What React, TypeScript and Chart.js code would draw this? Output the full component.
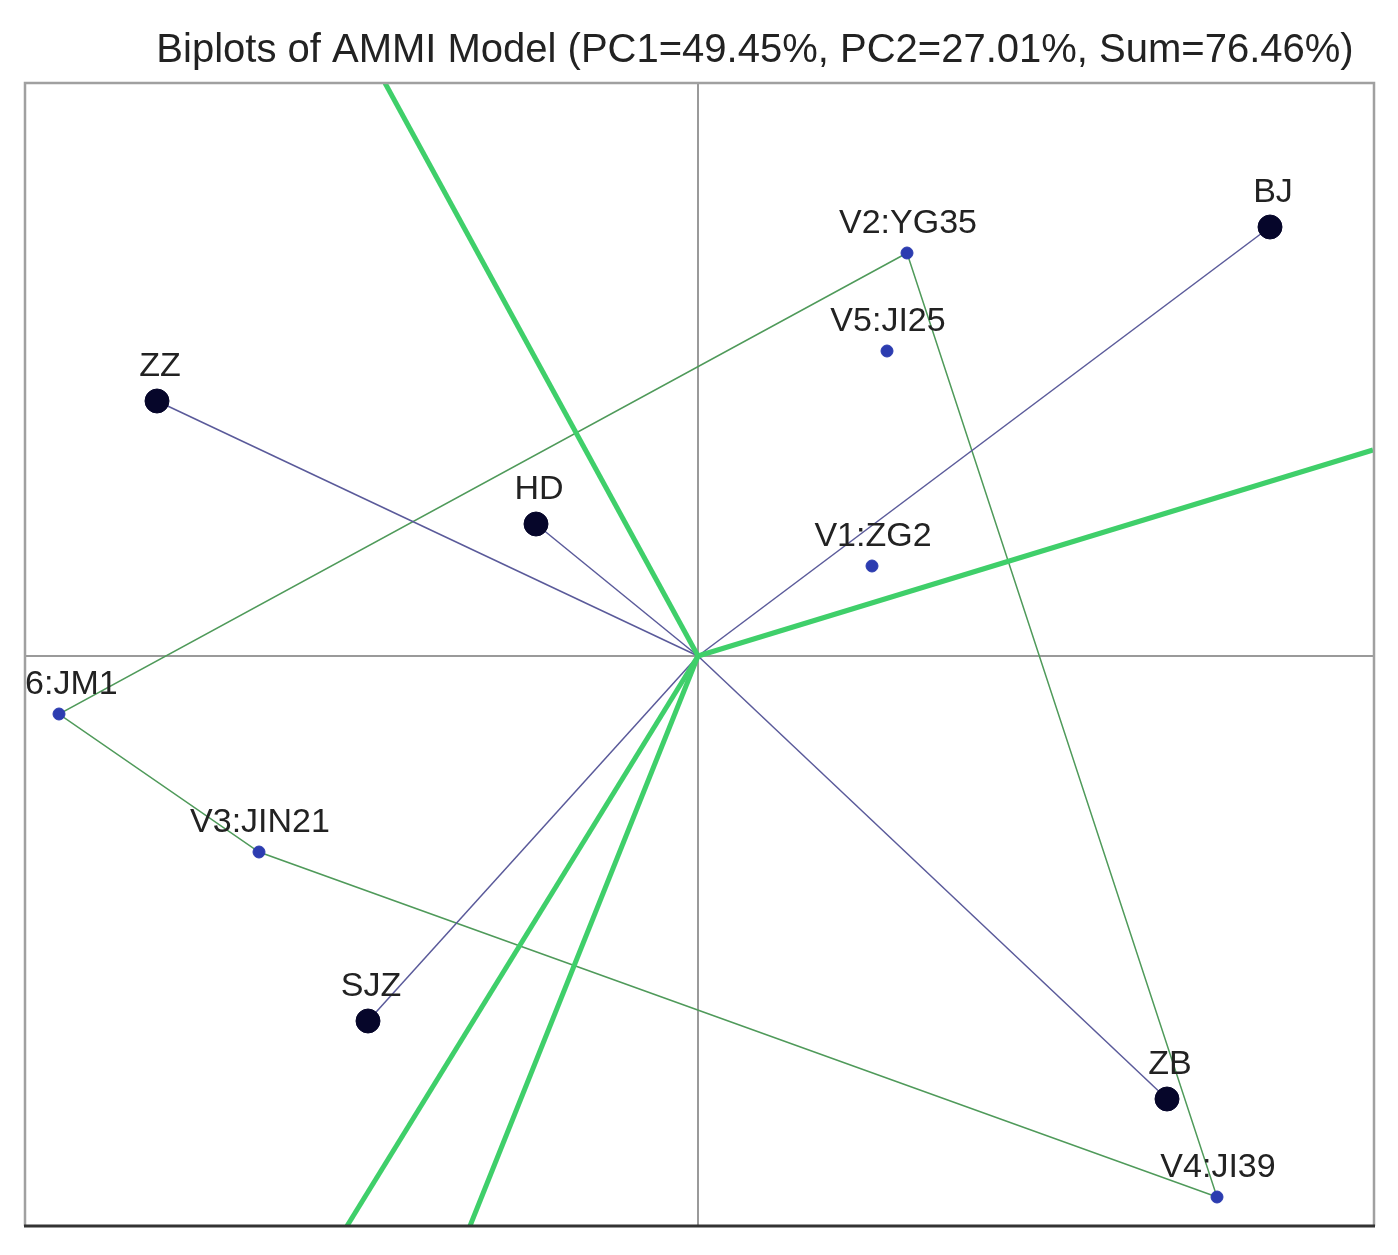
import React, { useEffect, useRef } from "react";
import { Chart, registerables } from "chart.js";

Chart.register(...registerables);

// Environment scores (PC1, PC2) in arbitrary biplot units
const envNames = ["BJ", "ZZ", "HD", "SJZ", "ZB"];
const envX = [5.72, -5.41, -1.62, -3.30, 4.69];
const envY = [4.29, 2.55, 1.32, -3.65, -4.43];

// Genotype scores
const genoNames = ["V1:ZG2", "V2:YG35", "V3:JIN21", "V4:JI39", "V5:JI25", "V6:JM1"];
const genoX = [1.74, 2.09, -4.39, 5.19, 1.89, -6.39];
const genoY = [0.90, 4.03, -1.96, -5.41, 3.05, -0.58];

// Convex hull (polygon) of genotypes, by index into geno arrays
const hullOrder = [1, 5, 2, 3, 1];

// Perpendicular sector rays (end points at the plot border)
const rayX = [-3.13, 6.75, -3.51, -2.28];
const rayY = [5.73, 2.06, -5.70, -5.70];

// Axis limits
const xMin = -6.73;
const xMax = 6.76;
const yMin = -5.70;
const yMax = 5.73;

const title = "Biplots of AMMI Model (PC1=49.45%, PC2=27.01%, Sum=76.46%)";

const FONT = "'Liberation Sans', Arial, sans-serif";

const decorPlugin = {
  id: "decor",
  beforeDatasetsDraw(chart: any) {
    const { ctx, chartArea: a, scales } = chart;
    const x0 = scales.x.getPixelForValue(0);
    const y0 = scales.y.getPixelForValue(0);
    ctx.save();
    ctx.strokeStyle = "#9a9a9a";
    ctx.lineWidth = 2;
    ctx.beginPath();
    ctx.moveTo(x0, a.top);
    ctx.lineTo(x0, a.bottom);
    ctx.moveTo(a.left, y0);
    ctx.lineTo(a.right, y0);
    ctx.stroke();
    ctx.restore();
  },
  afterDatasetsDraw(chart: any) {
    const { ctx, chartArea: a, scales } = chart;
    ctx.save();
    ctx.beginPath();
    ctx.rect(a.left, a.top, a.right - a.left, a.bottom - a.top);
    ctx.clip();
    ctx.fillStyle = "#222";
    ctx.font = `34px ${FONT}`;
    ctx.textAlign = "center";
    ctx.textBaseline = "alphabetic";
    envNames.forEach((n, i) => {
      const px = scales.x.getPixelForValue(envX[i]);
      const py = scales.y.getPixelForValue(envY[i]);
      ctx.fillText(n, px + 3, py - 25);
    });
    genoNames.forEach((n, i) => {
      const px = scales.x.getPixelForValue(genoX[i]);
      const py = scales.y.getPixelForValue(genoY[i]);
      ctx.fillText(n, px + 1, py - 20);
    });
    ctx.restore();

    // frame
    ctx.save();
    ctx.lineWidth = 2.5;
    ctx.strokeStyle = "#a0a0a0";
    ctx.beginPath();
    ctx.moveTo(a.left, a.bottom);
    ctx.lineTo(a.left, a.top);
    ctx.lineTo(a.right, a.top);
    ctx.lineTo(a.right, a.bottom);
    ctx.stroke();
    ctx.strokeStyle = "#333";
    ctx.lineWidth = 3;
    ctx.beginPath();
    ctx.moveTo(a.left - 1, a.bottom);
    ctx.lineTo(a.right + 1, a.bottom);
    ctx.stroke();
    ctx.restore();

    // title
    ctx.save();
    ctx.fillStyle = "#222";
    ctx.font = `40px ${FONT}`;
    ctx.textAlign = "center";
    ctx.textBaseline = "alphabetic";
    ctx.fillText(title, 747, 54);
    ctx.restore();
  },
};

export default function App() {
  const ref = useRef<HTMLCanvasElement | null>(null);

  useEffect(() => {
    if (!ref.current) return;

    const rayDatasets = rayX.map((x, i) => ({
      type: "line" as const,
      data: [
        { x: 0, y: 0 },
        { x, y: rayY[i] },
      ],
      borderColor: "#3fcf6a",
      borderWidth: 5,
      pointRadius: 0,
      showLine: true,
      order: 2,
    }));

    const envDatasets = envX.map((x, i) => ({
      type: "line" as const,
      data: [
        { x: 0, y: 0 },
        { x, y: envY[i] },
      ],
      borderColor: "#5a5a9a",
      borderWidth: 1.5,
      pointRadius: 0,
      showLine: true,
      order: 3,
    }));

    const hullDataset = {
      type: "line" as const,
      data: hullOrder.map((k) => ({ x: genoX[k], y: genoY[k] })),
      borderColor: "#4f9a5a",
      borderWidth: 1.5,
      pointRadius: 0,
      showLine: true,
      order: 4,
    };

    const envPoints = {
      type: "scatter" as const,
      data: envX.map((x, i) => ({ x, y: envY[i] })),
      backgroundColor: "#06062a",
      borderColor: "#06062a",
      pointRadius: 12,
      order: 0,
    };

    const genoPoints = {
      type: "scatter" as const,
      data: genoX.map((x, i) => ({ x, y: genoY[i] })),
      backgroundColor: "#2c3cb0",
      borderColor: "#2c3cb0",
      pointRadius: 6,
      order: 0,
    };

    const chart = new Chart(ref.current, {
      type: "scatter",
      data: {
        datasets: [envPoints, genoPoints, ...rayDatasets, ...envDatasets, hullDataset] as any,
      },
      options: {
        animation: false,
        responsive: false,
        devicePixelRatio: 1,
        layout: { padding: { left: 17, right: 16, top: 75, bottom: 21 } },
        plugins: {
          legend: { display: false },
          title: { display: false },
          tooltip: { enabled: false },
        },
        scales: {
          x: { type: "linear", min: xMin, max: xMax, display: false },
          y: { type: "linear", min: yMin, max: yMax, display: false },
        },
      },
      plugins: [decorPlugin],
    });
    return () => chart.destroy();
  }, []);

  return (
    <div style={{ width: 1382, height: 1239, background: "#fff" }}>
      <canvas ref={ref} width={1382} height={1239} />
    </div>
  );
}
